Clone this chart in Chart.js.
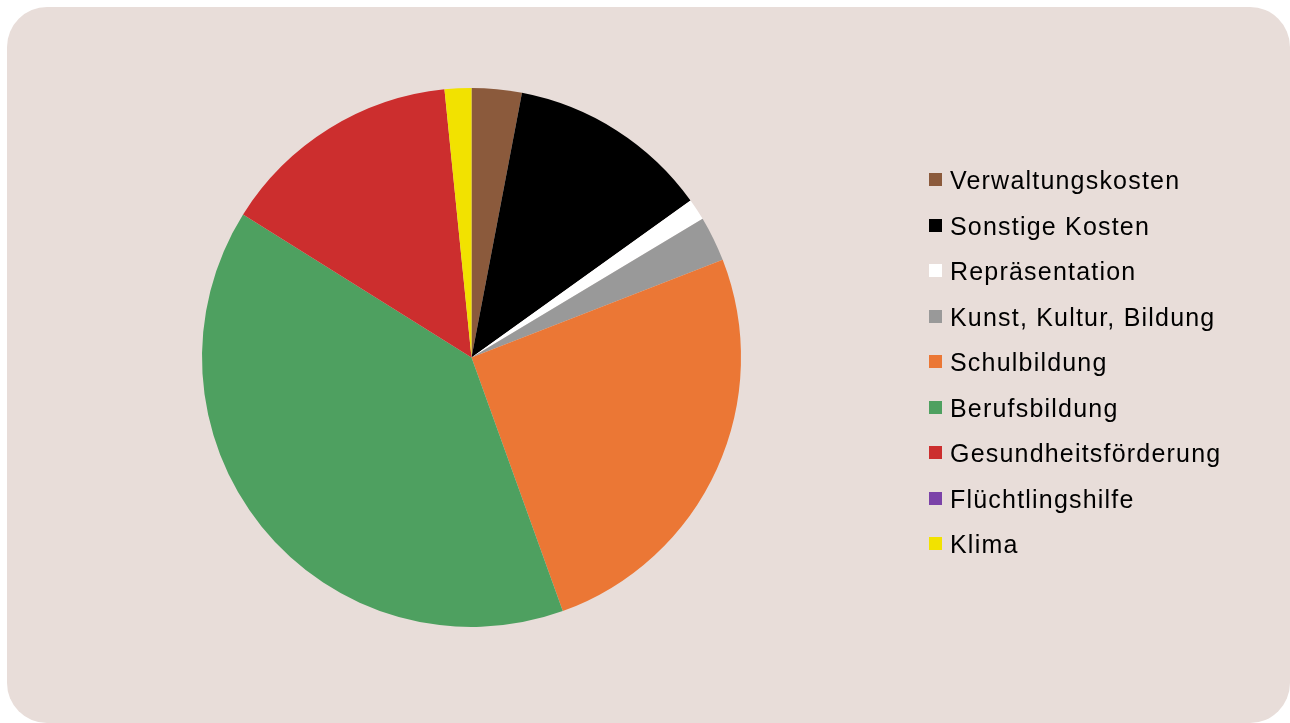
<!DOCTYPE html>
<html>
<head>
<meta charset="utf-8">
<script src="https://cdn.jsdelivr.net/npm/chart.js@4"></script>
<style>
  html, body { margin: 0; padding: 0; background: #ffffff; width: 1290px; height: 723px; overflow: hidden; }
  #panel {
    position: absolute; left: 7px; top: 7px; width: 1283px; height: 716px;
    background: #e8ddd9; border-radius: 40px;
  }
  #chartBox { position: absolute; left: 0; top: 0; width: 943px; height: 723px; }
  #legend {
    position: absolute; left: 929px; top: 0;
    font-family: "Liberation Sans", Arial, sans-serif; font-size: 25px; letter-spacing: 1.2px; color: #000;
  }
  .item { position: absolute; left: 0; height: 30px; white-space: nowrap; }
  .item .box { position: absolute; left: 0; top: 8px; width: 13px; height: 13px; }
  .item .txt { position: absolute; left: 21px; top: 0; line-height: 30px; }
</style>
</head>
<body>
<div id="panel"></div>
<div id="chartBox"><canvas id="pieChart" width="943" height="723"></canvas></div>
<div id="legend"></div>
<script>
// Anteile in Prozent (aus der Grafik geschätzt)
const categories = [
  "Verwaltungskosten",
  "Sonstige Kosten",
  "Repräsentation",
  "Kunst, Kultur, Bildung",
  "Schulbildung",
  "Berufsbildung",
  "Gesundheitsförderung",
  "Flüchtlingshilfe",
  "Klima",
];
const shares = [3.0, 12.1, 1.3, 2.7, 25.4, 39.4, 14.5, 0, 1.6];
const colors = [
  "#8b5a3c",
  "#000000",
  "#ffffff",
  "#999999",
  "#eb7735",
  "#4ea060",
  "#cc2e2e",
  "#7b42a8",
  "#f2e200",
];

/** Legend rechts neben dem Kreis */
function buildLegend() {
  const legend = document.getElementById("legend");
  legend.innerHTML = "";
  categories.forEach((name, i) => {
    const item = document.createElement("div");
    item.className = "item";
    item.style.top = `${165 + i * 45.5}px`;
    item.innerHTML = `<span class="box" style="background:${colors[i]}"></span><span class="txt">${name}</span>`;
    legend.appendChild(item);
  });
}

const ctx = document.getElementById("pieChart");
new Chart(ctx, {
  type: "pie",
  data: {
    labels: categories,
    datasets: [
      {
        data: shares,
        backgroundColor: colors,
        borderWidth: 0,
        hoverOffset: 0,
      },
    ],
  },
  options: {
    responsive: false,
    animation: false,
    layout: { padding: { top: 88, bottom: 96, left: 0, right: 0 } },
    plugins: {
      legend: { display: false },
      tooltip: { enabled: false },
    },
  },
});

buildLegend();
</script>
</body>
</html>
